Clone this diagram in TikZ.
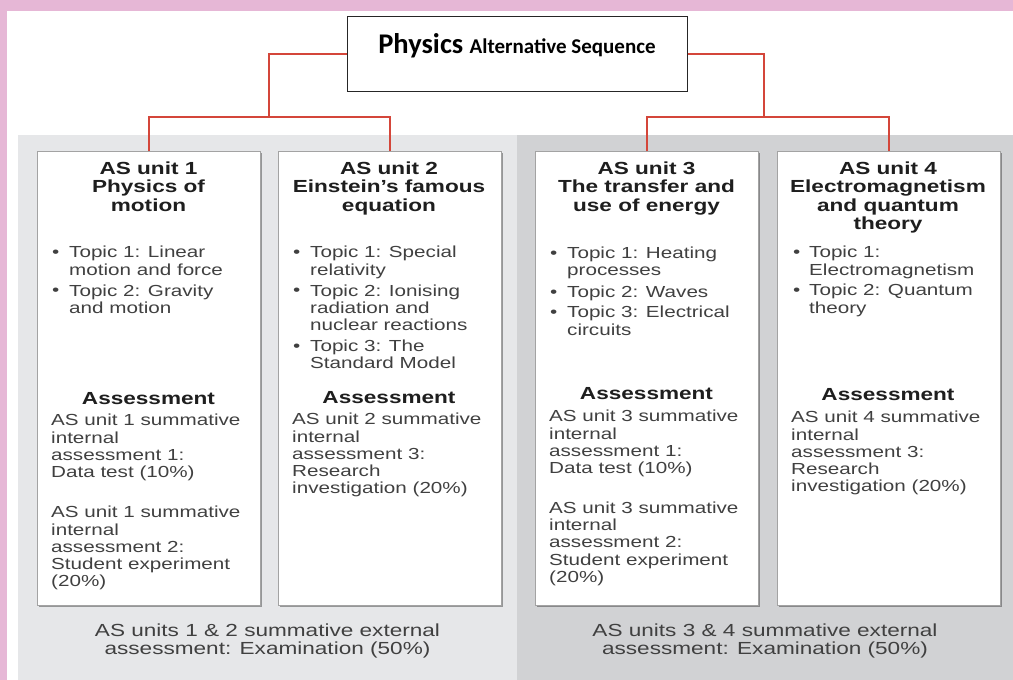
\documentclass[tikz,border=0pt]{standalone}
\usepackage{fontspec}
\setmainfont{Liberation Sans}[FakeStretch=1.29]
\newfontfamily\titlefont{Carlito}
\usetikzlibrary{shadows}
\definecolor{pinkbg}{HTML}{E6B7D6}
\definecolor{greyL}{HTML}{E6E7E9}
\definecolor{greyR}{HTML}{D1D2D4}
\definecolor{redline}{HTML}{D4463A}
\definecolor{boxborder}{HTML}{A3A3A3}
\definecolor{bodycol}{HTML}{404040}
\definecolor{hdrcol}{HTML}{1E1E1E}
\tikzset{
  unitbox/.style={draw=boxborder, fill=white, line width=0.8pt, inner sep=0pt, outer sep=0pt,
    minimum width=223pt, minimum height=454pt, anchor=north west,
    drop shadow={shadow xshift=1.6pt, shadow yshift=-1.6pt, fill=black, opacity=0.35}},
  conn/.style={draw=redline, line width=2pt},
  hdr/.style={anchor=north, align=center, inner sep=0pt, text=hdrcol,
    font=\fontsize{17.5}{18.5}\selectfont\bfseries},
  body/.style={anchor=north west, align=left, inner sep=0pt, text=bodycol,
    font=\fontsize{16}{17.3}\selectfont},
  bul/.style={anchor=base west, inner sep=0pt, text=bodycol,
    font=\fontsize{16}{17.3}\selectfont},
  ext/.style={anchor=north, align=center, inner sep=0pt, text=bodycol,
    font=\fontsize{17.5}{18}\selectfont},
}
\begin{document}
\begin{tikzpicture}[x=1pt,y=-1pt]
\useasboundingbox (0,0) rectangle (1013,680);
% backgrounds
\fill[pinkbg] (0,0) rectangle (1013,680);
\fill[white] (7,11) rectangle (1013,680);
\fill[greyL] (18,135) rectangle (517,680);
\fill[greyR] (517,135) rectangle (1013,680);
% title
\node[draw=black!85, line width=1pt, fill=white, minimum width=340pt, minimum height=75pt, inner sep=0pt] (title) at (517,53.5) {};
\node[anchor=base, inner sep=0pt] (titletext) at (517,53.5) {\titlefont\bfseries\fontsize{28.5}{30}\selectfont Physics \fontsize{21}{24}\selectfont Alternative Sequence};
% unit boxes
\node[unitbox] (u1) at (37,151) {};
\node[unitbox] (u2) at (278,151) {};
\node[unitbox] (u3) at (535,151) {};
\node[unitbox] (u4) at (777,151) {};
% connectors
\coordinate (jL) at (269,117);
\coordinate (jR) at (764,117);
\draw[conn] (title.west) -| (jL);
\draw[conn] (u1.north) |- (jL) -| (u2.north);
\draw[conn] (title.east) -| (jR);
\draw[conn] (u3.north) |- (jR) -| (u4.north);
% ---------- box 1
\node[hdr] (h1) at (148.5,161.5) {AS unit 1\\Physics of\\motion};
\node[body] (t1a) at (69,246) {Topic 1: Linear\\motion and force};
\node[bul] (b1a) at (52,257.5) {•};
\node[body] (t1b) at (69,284.3) {Topic 2: Gravity\\and motion};
\node[bul] (b1b) at (52,295.8) {•};
\node[hdr] (as1) at (148.5,392) {Assessment};
\node[body] (a1a) at (51,414) {AS unit 1 summative\\internal\\assessment 1:\\Data test (10\%)};
\node[body] (a1b) at (51,506) {AS unit 1 summative\\internal\\assessment 2:\\Student experiment\\(20\%)};
% ---------- box 2
\node[hdr] (h2) at (389,161.5) {AS unit 2\\Einstein’s famous\\equation};
\node[body] (t2a) at (310,246) {Topic 1: Special\\relativity};
\node[bul] (b2a) at (293,257.5) {•};
\node[body] (t2b) at (310,284.3) {Topic 2: Ionising\\radiation and\\nuclear reactions};
\node[bul] (b2b) at (293,295.8) {•};
\node[body] (t2c) at (310,339.9) {Topic 3: The\\Standard Model};
\node[bul] (b2c) at (293,351.4) {•};
\node[hdr] (as2) at (389,391) {Assessment};
\node[body] (a2a) at (292,413) {AS unit 2 summative\\internal\\assessment 3:\\Research\\investigation (20\%)};
% ---------- box 3
\node[hdr] (h3) at (646.5,161.5) {AS unit 3\\The transfer and\\use of energy};
\node[body] (t3a) at (567,246.5) {Topic 1: Heating\\processes};
\node[bul] (b3a) at (550,258) {•};
\node[body] (t3b) at (567,285.5) {Topic 2: Waves};
\node[bul] (b3b) at (550,297) {•};
\node[body] (t3c) at (567,306) {Topic 3: Electrical\\circuits};
\node[bul] (b3c) at (550,317.5) {•};
\node[hdr] (as3) at (646.5,387.5) {Assessment};
\node[body] (a3a) at (549,410) {AS unit 3 summative\\internal\\assessment 1:\\Data test (10\%)};
\node[body] (a3b) at (549,501.5) {AS unit 3 summative\\internal\\assessment 2:\\Student experiment\\(20\%)};
% ---------- box 4
\node[hdr] (h4) at (888,161.5) {AS unit 4\\Electromagnetism\\and quantum\\theory};
\node[body] (t4a) at (809,246) {Topic 1:\\Electromagnetism};
\node[bul] (b4a) at (793,257.5) {•};
\node[body] (t4b) at (809,284) {Topic 2: Quantum\\theory};
\node[bul] (b4b) at (793,295.5) {•};
\node[hdr] (as4) at (888,388) {Assessment};
\node[body] (a4a) at (791,411) {AS unit 4 summative\\internal\\assessment 3:\\Research\\investigation (20\%)};
% ---------- external assessments
\node[ext] (e12) at (267.5,623.5) {AS units 1 \& 2 summative external\\assessment: Examination (50\%)};
\node[ext] (e34) at (765,623.5) {AS units 3 \& 4 summative external\\assessment: Examination (50\%)};
\end{tikzpicture}
\end{document}
